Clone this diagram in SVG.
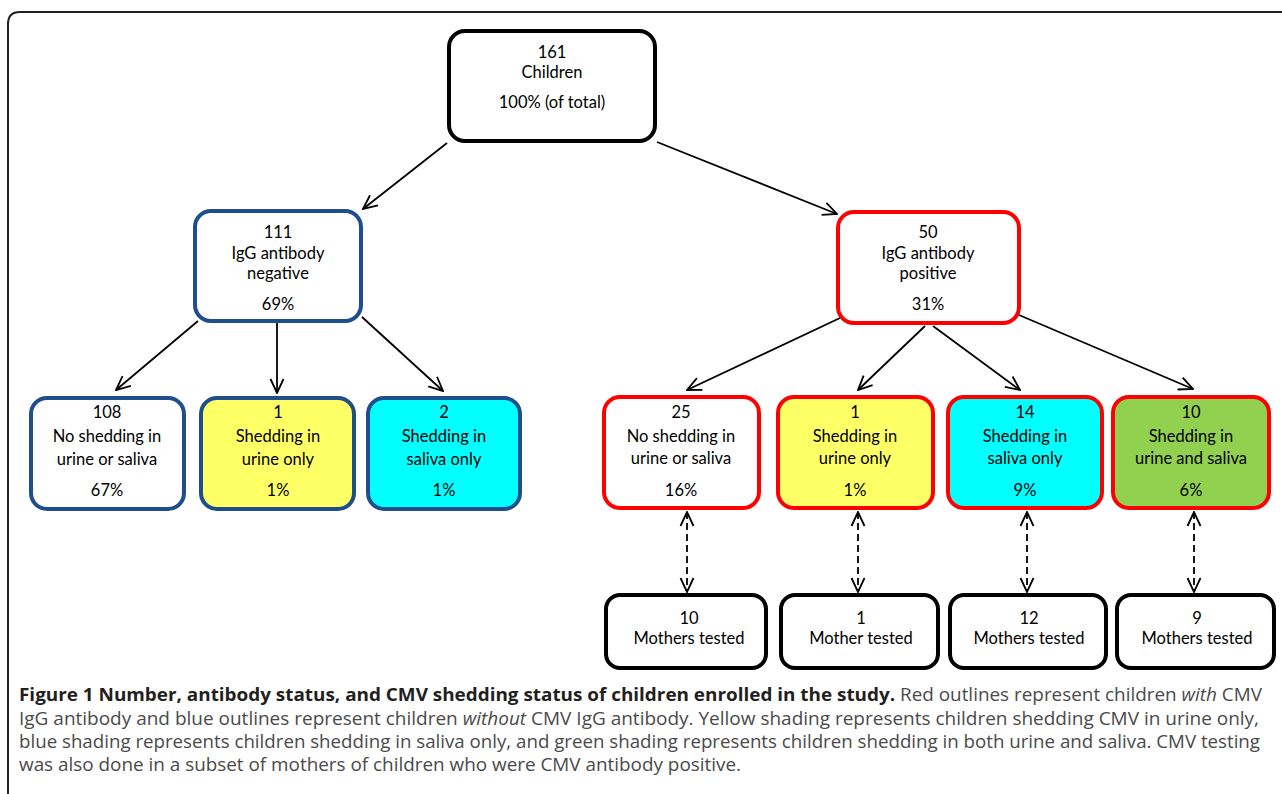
<svg xmlns="http://www.w3.org/2000/svg" width="1282" height="794" viewBox="0 0 1282 794">
<defs>
<marker id="ah" viewBox="0 0 16 16" refX="15" refY="8" markerWidth="16" markerHeight="16" markerUnits="userSpaceOnUse" orient="auto-start-reverse">
<path d="M1,1.5 L15,8 L1,14.5" fill="none" stroke="#000" stroke-width="1.8"/>
</marker>
</defs>
<style>
.box{stroke-width:4;}
.blk{stroke:#000;fill:#fff;}
.blu{stroke:#1f4e8c;}
.red{stroke:#ff0000;}
.t{font-family:Lato,"Open Sans",sans-serif;font-size:16.5px;fill:#000;text-anchor:middle;}
.c{stroke:#000;stroke-width:1.8;fill:none;marker-end:url(#ah);}
.d{stroke:#000;stroke-width:1.8;fill:none;stroke-dasharray:7 4;marker-end:url(#ah);marker-start:url(#ah);}
.cap{font-family:"Open Sans","Liberation Sans",sans-serif;font-size:17.5px;fill:#4a4a4a;}
.b{font-weight:bold;fill:#231f20;}
</style>
<rect width="1282" height="794" fill="#fff"/>
<path d="M1290,12 L20,12 Q8,12 8,24 L8,800" fill="none" stroke="#231f20" stroke-width="2"/>

<g id="n-root">
<rect class="box blk" x="449" y="31" width="206" height="110" rx="16"/>
<text class="t" x="552" y="58">161</text>
<text class="t" x="552" y="78">Children</text>
<text class="t" x="552" y="108">100% (of total)</text>
</g>

<g id="n-neg">
<rect class="box blu" fill="#fff" x="195" y="211" width="166" height="110" rx="16"/>
<text class="t" x="278" y="238">111</text>
<text class="t" x="278" y="259">IgG antibody</text>
<text class="t" x="278" y="279">negative</text>
<text class="t" x="278" y="310">69%</text>
</g>

<g id="n-pos">
<rect class="box red" fill="#fff" x="838" y="212" width="181" height="111" rx="16"/>
<text class="t" x="928" y="238">50</text>
<text class="t" x="928" y="259">IgG antibody</text>
<text class="t" x="928" y="279">positive</text>
<text class="t" x="928" y="310">31%</text>
</g>

<g id="n-neg-none">
<rect class="box blu" fill="#fff" x="31" y="398" width="153" height="111" rx="16"/>
<text class="t" x="107" y="418">108</text>
<text class="t" x="107" y="442">No shedding in</text>
<text class="t" x="107" y="465">urine or saliva</text>
<text class="t" x="107" y="496">67%</text>
</g>
<g id="n-neg-urine">
<rect class="box blu" fill="#ffff66" x="201" y="398" width="153" height="111" rx="16"/>
<text class="t" x="278" y="418">1</text>
<text class="t" x="278" y="442">Shedding in</text>
<text class="t" x="278" y="465">urine only</text>
<text class="t" x="278" y="496">1%</text>
</g>
<g id="n-neg-saliva">
<rect class="box blu" fill="#00ffff" x="368" y="398" width="152" height="111" rx="16"/>
<text class="t" x="444" y="418">2</text>
<text class="t" x="444" y="442">Shedding in</text>
<text class="t" x="444" y="465">saliva only</text>
<text class="t" x="444" y="496">1%</text>
</g>

<g id="n-pos-none">
<rect class="box red" fill="#fff" x="604" y="397" width="155" height="111" rx="16"/>
<text class="t" x="681" y="418">25</text>
<text class="t" x="681" y="442">No shedding in</text>
<text class="t" x="681" y="464">urine or saliva</text>
<text class="t" x="681" y="496">16%</text>
</g>
<g id="n-pos-urine">
<rect class="box red" fill="#ffff66" x="778" y="397" width="155" height="111" rx="16"/>
<text class="t" x="855" y="418">1</text>
<text class="t" x="855" y="442">Shedding in</text>
<text class="t" x="855" y="464">urine only</text>
<text class="t" x="855" y="496">1%</text>
</g>
<g id="n-pos-saliva">
<rect class="box red" fill="#00ffff" x="948" y="397" width="154" height="111" rx="16"/>
<text class="t" x="1025" y="418">14</text>
<text class="t" x="1025" y="442">Shedding in</text>
<text class="t" x="1025" y="464">saliva only</text>
<text class="t" x="1025" y="496">9%</text>
</g>
<g id="n-pos-both">
<rect class="box red" fill="#92d050" x="1113" y="397" width="156" height="111" rx="16"/>
<text class="t" x="1191" y="418">10</text>
<text class="t" x="1191" y="442">Shedding in</text>
<text class="t" x="1191" y="464">urine and saliva</text>
<text class="t" x="1191" y="496">6%</text>
</g>

<g id="n-m1">
<rect class="box blk" x="606" y="595" width="160" height="73" rx="14"/>
<text class="t" x="689" y="624">10</text>
<text class="t" x="689" y="644">Mothers tested</text>
</g>
<g id="n-m2">
<rect class="box blk" x="781" y="595" width="157" height="73" rx="14"/>
<text class="t" x="861" y="624">1</text>
<text class="t" x="861" y="644">Mother tested</text>
</g>
<g id="n-m3">
<rect class="box blk" x="950" y="595" width="156" height="73" rx="14"/>
<text class="t" x="1029" y="624">12</text>
<text class="t" x="1029" y="644">Mothers tested</text>
</g>
<g id="n-m4">
<rect class="box blk" x="1117" y="595" width="157" height="73" rx="14"/>
<text class="t" x="1197" y="624">9</text>
<text class="t" x="1197" y="644">Mothers tested</text>
</g>

<g id="connectors">
<line class="c" x1="447" y1="143" x2="363" y2="209"/>
<line class="c" x1="657" y1="142" x2="837" y2="214"/>
<line class="c" x1="198" y1="321" x2="116" y2="390"/>
<line class="c" x1="277" y1="323" x2="277" y2="393"/>
<line class="c" x1="362" y1="317" x2="443" y2="391"/>
<line class="c" x1="840" y1="318" x2="687" y2="390"/>
<line class="c" x1="925" y1="326" x2="858" y2="390"/>
<line class="c" x1="933" y1="326" x2="1020" y2="390"/>
<line class="c" x1="1019" y1="315" x2="1193" y2="389"/>
<line class="d" x1="687" y1="512" x2="687" y2="592"/>
<line class="d" x1="858" y1="512" x2="858" y2="592"/>
<line class="d" x1="1027" y1="512" x2="1027" y2="592"/>
<line class="d" x1="1194" y1="512" x2="1194" y2="592"/>
</g>

<g id="caption">
<text class="cap" x="19" y="701" textLength="1243" lengthAdjust="spacingAndGlyphs"><tspan class="b">Figure 1 Number, antibody status, and CMV shedding status of children enrolled in the study.</tspan> Red outlines represent children <tspan font-style="italic">with</tspan> CMV</text>
<text class="cap" x="19" y="725" textLength="1240" lengthAdjust="spacingAndGlyphs">IgG antibody and blue outlines represent children <tspan font-style="italic">without</tspan> CMV IgG antibody. Yellow shading represents children shedding CMV in urine only,</text>
<text class="cap" x="19" y="748" textLength="1241" lengthAdjust="spacingAndGlyphs">blue shading represents children shedding in saliva only, and green shading represents children shedding in both urine and saliva. CMV testing</text>
<text class="cap" x="19" y="771" textLength="722" lengthAdjust="spacingAndGlyphs">was also done in a subset of mothers of children who were CMV antibody positive.</text>
</g>
</svg>
